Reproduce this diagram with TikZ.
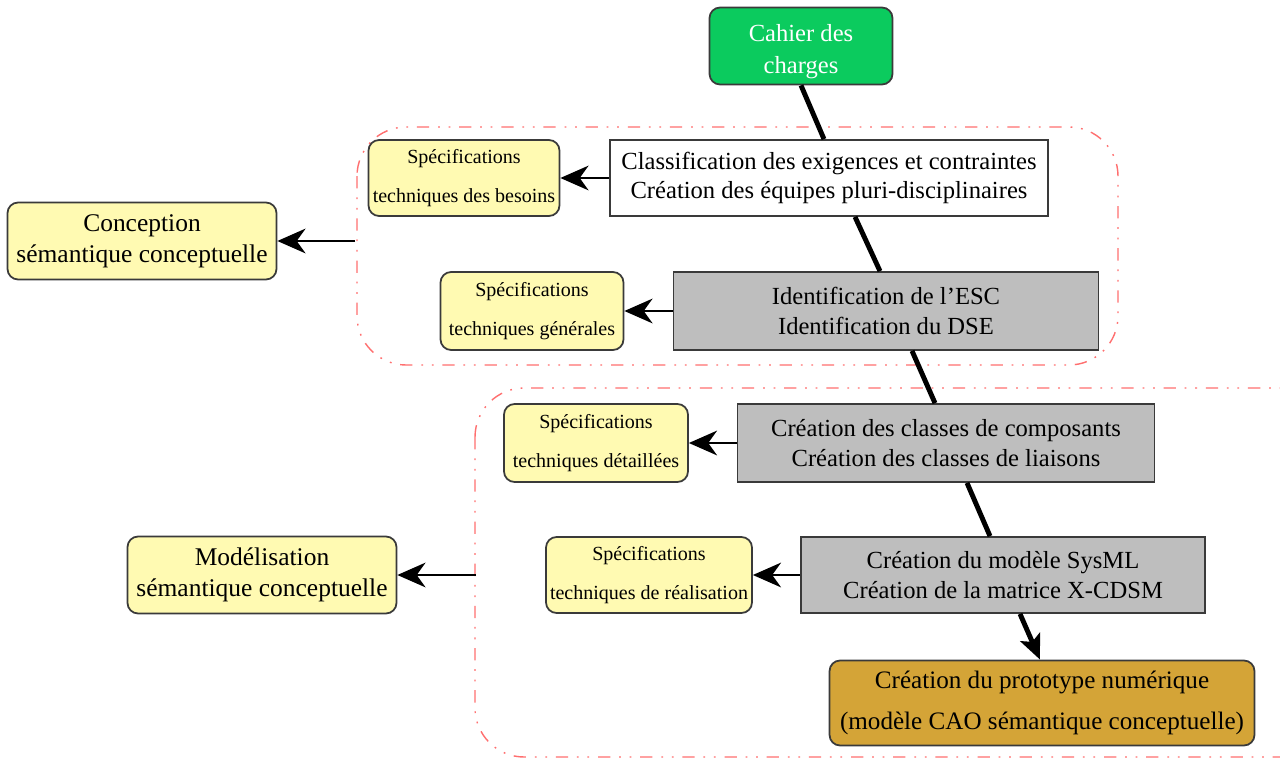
\documentclass[tikz,border=0pt]{standalone}
\usepackage{fontspec}
\setmainfont{Liberation Serif}
\usepackage{tikz}
\usetikzlibrary{calc, arrows.meta}
\definecolor{cdcGreen}{HTML}{0BCB5E}
\definecolor{specYellow}{HTML}{FFFAB2}
\definecolor{taskGray}{HTML}{BEBEBE}
\definecolor{protoGold}{HTML}{D4A437}
\definecolor{phaseRed}{HTML}{FF6F6F}
\definecolor{edgeGray}{HTML}{3A3A3A}

\tikzset{
    boxbase/.style={draw=edgeGray, line width=1pt, align=center, inner sep=0pt},
    specbox/.style={boxbase, fill=specYellow, rounded corners=6pt,
        font=\fontsize{11.4}{22}\selectfont},
    phasebox/.style={boxbase, fill=specYellow, rounded corners=6pt,
        font=\fontsize{14.5}{17.5}\selectfont},
    taskbox/.style={boxbase, fill=taskGray, font=\fontsize{14}{17}\selectfont},
    link/.style={line width=2.8pt, black},
    feed/.style={line width=1.7pt, black, -{Stealth[length=16pt, width=14pt, inset=5pt]}},
    phasezone/.style={draw=phaseRed, line width=0.8pt,
        dash pattern=on 7pt off 5pt on 1pt off 5pt on 1pt off 5pt}
}

\begin{document}
\begin{tikzpicture}[x=0.02cm, y=-0.02cm]
    \clip (0,0) rectangle (1280,760);
    \fill[white] (0,0) rectangle (1280,760);

    % zones en pointilles
    \draw[phasezone, rounded corners=28pt] (357,127) rectangle (1118,365);
    \draw[phasezone, rounded corners=28pt] (475,388) rectangle (1335,757);

    % noeuds principaux
    \node[boxbase, fill=cdcGreen, text=white, rounded corners=6pt,
        font=\fontsize{14}{18}\selectfont, text height=31pt, text depth=0pt,
        minimum width=3.66cm, minimum height=1.54cm] (cdc) at (801,46)
        {Cahier des\\charges};
    \node[boxbase, fill=white, font=\fontsize{14}{17}\selectfont,
        minimum width=8.76cm, minimum height=1.52cm] (classif) at (829,178)
        {Classification des exigences et contraintes\\Création des équipes pluri-disciplinaires};
    \node[taskbox, minimum width=8.5cm, minimum height=1.56cm] (ident) at (886,311)
        {Identification de l'ESC\\Identification du DSE};
    \node[taskbox, minimum width=8.34cm, minimum height=1.56cm] (classes) at (946,443)
        {Création des classes de composants\\Création des classes de liaisons};
    \node[taskbox, minimum width=8.08cm, minimum height=1.52cm] (sysml) at (1003,575)
        {Création du modèle SysML\\Création de la matrice X-CDSM};
    \node[boxbase, fill=protoGold, rounded corners=6pt,
        font=\fontsize{14.3}{23}\selectfont,
        minimum width=8.5cm, minimum height=1.7cm] (proto) at (1042,703)
        {Création du prototype numérique\\(modèle CAO sémantique conceptuelle)};

    % specifications
    \node[specbox, minimum width=3.82cm, minimum height=1.52cm] (besoins) at (464,178)
        {Spécifications\\techniques des besoins};
    \node[specbox, minimum width=3.66cm, minimum height=1.56cm] (generales) at (532,311)
        {Spécifications\\techniques générales};
    \node[specbox, minimum width=3.68cm, minimum height=1.56cm] (detail) at (596,443)
        {Spécifications\\techniques détaillées};
    \node[specbox, minimum width=4.12cm, minimum height=1.52cm] (realis) at (649,575)
        {Spécifications\\techniques de réalisation};

    % phases
    \node[phasebox, minimum width=5.38cm, minimum height=1.54cm] (concept) at (142,241)
        {Conception\\sémantique conceptuelle};
    \node[phasebox, minimum width=5.38cm, minimum height=1.54cm] (modelis) at (262,575)
        {Modélisation\\sémantique conceptuelle};
    \coordinate (zoneA) at (355,241);
    \coordinate (zoneB) at (476,575);

    % fil principal
    \draw[link] (cdc.south) -- ($(classif.north)+(-5,0)$);
    \draw[link] ($(classif.south)+(26,0)$) -- ($(ident.north)+(-6,0)$);
    \draw[link] ($(ident.south)+(26,0)$) -- ($(classes.north)+(-11,0)$);
    \draw[link] ($(classes.south)+(21,0)$) -- ($(sysml.north)+(-13,0)$);
    \draw[link, -{Stealth[length=14pt, width=12pt, inset=3pt]}]
        ($(sysml.south)+(17,0)$) -- ($(proto.north)+(-2,0)$);

    % sorties
    \draw[feed] (classif.west) -- (besoins.east);
    \draw[feed] (ident.west) -- (generales.east);
    \draw[feed] (classes.west) -- (detail.east);
    \draw[feed] (sysml.west) -- (realis.east);
    \draw[feed] (zoneA) -- (concept.east);
    \draw[feed] (zoneB) -- (modelis.east);
\end{tikzpicture}
\end{document}
